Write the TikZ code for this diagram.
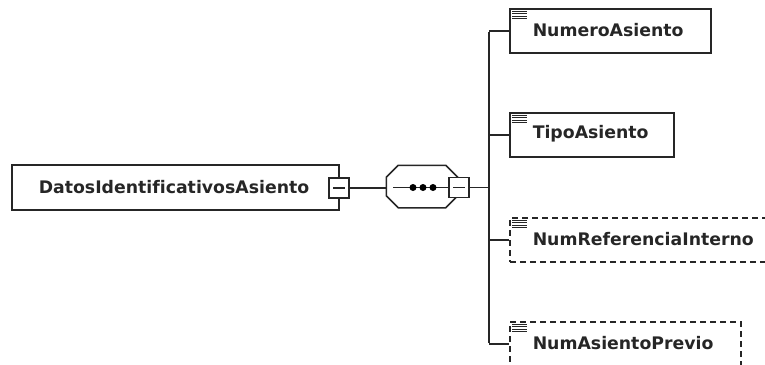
\documentclass[tikz,border=0pt]{standalone}
\usepackage{fontspec}
\setmainfont[Ligatures=NoCommon]{DejaVu Sans}
\begin{document}
\begin{tikzpicture}[x=1pt,y=-1pt,
  line width=1.5pt, draw=black!85,
  lbl/.style={font=\fontsize{17.3}{20}\selectfont\bfseries, text=black!85, inner sep=0pt},
  elbox/.style={draw, rectangle, inner sep=0pt, minimum height=44pt},
  optbox/.style={elbox, dash pattern=on 6pt off 4pt},
  minusbox/.style={draw, rectangle, fill=white, inner sep=0pt, minimum width=20pt, minimum height=20pt,
     path picture={\draw[line width=1.2pt] ([xshift=-6pt]path picture bounding box.center) -- ([xshift=6pt]path picture bounding box.center);}},
  seqbox/.style={rectangle, inner sep=0pt, minimum width=70pt, minimum height=41pt},
  dot/.style={circle, fill=black, inner sep=0pt, minimum size=7pt}
]
\useasboundingbox (0,0) rectangle (765,364);
\clip (0,0) rectangle (765,364);

% main element
\node[elbox, minimum width=327pt, minimum height=45pt] (main) at (175.5,187.5) {};
\node[lbl] (mainlbl) at (174,187) {DatosIdentificativosAsiento};
\node[minusbox] (m1) at (339,188) {};

% sequence compositor
\node[seqbox] (seq) at (422,186.5) {};
\draw ([xshift=12pt]seq.north west) -- ([xshift=-12pt]seq.north east) -- ([yshift=-12pt]seq.north east)
   -- ([yshift=12pt]seq.south east) -- ([xshift=-12pt]seq.south east) -- ([xshift=12pt]seq.south west)
   -- ([yshift=12pt]seq.south west) -- ([yshift=-12pt]seq.north west) -- cycle;
\coordinate (sin) at (393,187.5);
\node[minusbox] (m2) at (459,187.5) {};
\draw[line width=1.2pt] (sin) -- (m2.west);
\node[dot] (d1) at (413,187.5) {};
\node[dot] (d2) at (423,187.5) {};
\node[dot] (d3) at (433,187.5) {};

\draw (m1.east) -- (m1.east -| seq.west);

% trunk
\coordinate (tr) at (489,187.5);
\coordinate (t1) at (489,31);
\coordinate (t2) at (489,135);
\coordinate (t3) at (489,240);
\coordinate (t4) at (489,344);
\draw (m2.east) -- (tr);
\draw ([yshift=-0.75pt]t1) -- ([yshift=0.75pt]t4);

% children
\node[elbox, anchor=west, minimum width=201pt] (c1) at (509,31) {};
\node[elbox, anchor=west, minimum width=164pt] (c2) at (509,135) {};
\node[optbox, anchor=west, minimum width=272pt] (c3) at (509,240) {};
\node[optbox, anchor=west, minimum width=231pt] (c4) at (509,344) {};

\draw (t1) -- (c1.west);
\draw (t2) -- (c2.west);
\draw (t3) -- (c3.west);
\draw (t4) -- (c4.west);

\node[lbl, anchor=west] (l1) at (532,30) {NumeroAsiento};
\node[lbl, anchor=west] (l2) at (532,134) {TipoAsiento};
\node[lbl, anchor=west] (l3) at (532,239) {NumReferenciaInterno};
\node[lbl, anchor=west] (l4) at (532,343) {NumAsientoPrevio};

% documentation icons
\foreach \n in {c1,c2,c3,c4}{
  \foreach \dy in {3,5.5,8,10.5}{
    \draw[line width=1pt] ([xshift=3pt,yshift=-\dy pt]\n.north west) -- ([xshift=18pt,yshift=-\dy pt]\n.north west);
  }
}
\end{tikzpicture}
\end{document}
